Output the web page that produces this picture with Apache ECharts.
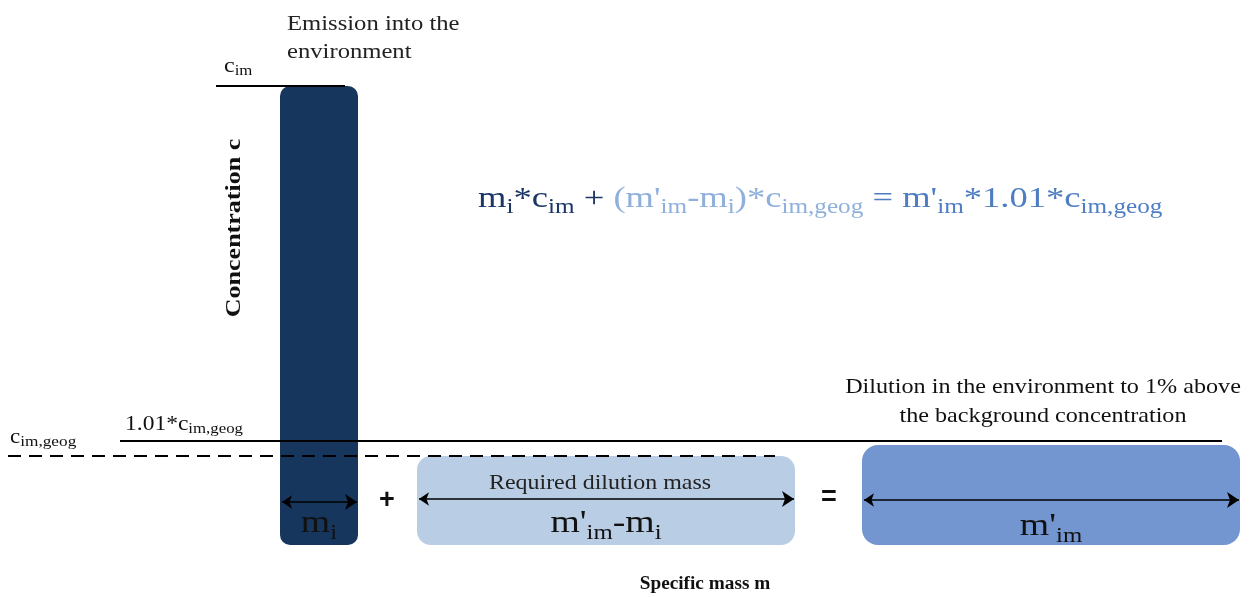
<!DOCTYPE html>
<html><head><meta charset="utf-8">
<script src="https://cdn.jsdelivr.net/npm/echarts@6/dist/echarts.min.js"></script>
<style>html,body{margin:0;padding:0;background:#fff}#c{width:1253px;height:597px}</style>
</head><body><div id="c"></div>
<script>
// Conceptual diagram: x = specific mass, y = concentration (arbitrary diagram units)
const massNames  = ['m_i', "m'_im-m_i", "m'_im"];
const massStart  = [280, 417, 862];
const massEnd    = [358, 795, 1240];
const massBase   = [52, 52, 52];
const massTop    = [511, 141, 152];
const massColors = ['#17365d', '#b9cde5', '#7396d1'];
const massRadius = [10, 14, 16];
const arrowLevel = [95, 98, 97];

const levelNames  = ['c_im', '1.01*c_im,geog', 'c_im,geog'];
const levelValues = [511, 156, 141];
const levelStart  = [216, 120, 8];
const levelEnd    = [345, 1222, 775];
const levelDashed = [false, false, true];

const serif = '"Liberation Serif","Times New Roman",serif';
const sans = '"Liberation Sans",Arial,sans-serif';

function sub(fs, color, extra) {
  return Object.assign({fontSize: fs, fontFamily: serif, fill: color}, extra || {});
}

const chart = echarts.init(document.getElementById('c'), null, {renderer: 'canvas'});

const barData = massNames.map((n, i) => [massStart[i], massEnd[i], massBase[i], massTop[i], i]);
const labelRich = {
  n: sub(32, '#111', {lineHeight: 38}),
  s: sub(21, '#111', {lineHeight: 21, padding: [18, 0, 0, 0]})
};
const barLabels = [
  '{n|m}{s|i}',
  "{n|m'}{s|im}{n|-m}{s|i}",
  "{n|m'}{s|im}"
];
const labelLift = [21, 21, 18];

const option = {
  animation: false,
  backgroundColor: '#ffffff',
  grid: {left: 0, right: 0, top: 0, bottom: 0},
  xAxis: {type: 'value', min: 0, max: 1253, show: false},
  yAxis: {type: 'value', min: 0, max: 597, show: false},
  series: [
    {
      type: 'custom',
      z: 1,
      data: barData,
      renderItem: function (params, api) {
        const i = api.value(4);
        const p1 = api.coord([api.value(0), api.value(3)]);
        const p2 = api.coord([api.value(1), api.value(2)]);
        const w = p2[0] - p1[0], h = p2[1] - p1[1];
        return {
          type: 'group',
          children: [
            {type: 'rect', shape: {x: p1[0], y: p1[1], width: w, height: h, r: massRadius[i]},
             style: {fill: massColors[i]}},
            {type: 'text', z2: 10, x: p1[0] + w / 2, y: p2[1] - labelLift[i], scaleX: 1.18,
             style: {x: 0, y: 0, text: barLabels[i], rich: labelRich,
                     align: 'center', verticalAlign: 'middle'}}
          ]
        };
      }
    },
    {
      type: 'lines',
      coordinateSystem: 'cartesian2d',
      z: 3,
      symbol: ['none', 'none'],
      data: levelNames.map((n, i) => ({
        name: n,
        coords: [[levelStart[i], levelValues[i]], [levelEnd[i], levelValues[i]]],
        lineStyle: {color: '#000', width: 2, type: levelDashed[i] ? [13, 8] : 'solid', opacity: 1}
      }))
    },
    {
      type: 'lines',
      coordinateSystem: 'cartesian2d',
      z: 4,
      symbol: ['arrow', 'arrow'],
      symbolSize: [10, 12],
      lineStyle: {color: '#000', width: 1.6, opacity: 1},
      data: massNames.map((n, i) => ({
        name: n,
        coords: [[massStart[i] + 2, arrowLevel[i]], [massEnd[i] - 1, arrowLevel[i]]]
      }))
    }
  ],
  graphic: {
    elements: [
      {type: 'text', z: 100, x: 287, y: 10, scaleX: 1.12,
       style: {text: 'Emission into the\nenvironment', font: '22px ' + serif, fill: '#222', lineHeight: 28}},
      {type: 'text', z: 100, x: 224, y: 56, scaleX: 1.2,
       style: {text: '{n|c}{s|im}', rich: {n: sub(20, '#111', {lineHeight: 22}), s: sub(14, '#111', {lineHeight: 14, padding: [9, 0, 0, 0]})}}},
      {type: 'text', z: 100, x: 235, y: 228, rotation: Math.PI / 2, scaleX: 1.3,
       style: {text: 'Concentration c', font: 'bold 20px ' + serif, fill: '#111', align: 'center', verticalAlign: 'middle'}},
      {type: 'text', z: 100, x: 478, y: 181, scaleX: 1.26,
       style: {
         text: "{a|m}{as|i}{a|*c}{as|im}{a| + }{b|(m'}{bs|im}{b|-m}{bs|i}{b|)*c}{bs|im,geog}{c| = m'}{cs|im}{c|*1.01*c}{cs|im,geog}",
         rich: {
           a: sub(29, '#1c3766', {lineHeight: 36}),
           as: sub(20, '#1c3766', {lineHeight: 20, padding: [18, 0, 0, 0]}),
           b: sub(29, '#8fb0dc', {lineHeight: 36}),
           bs: sub(20, '#8fb0dc', {lineHeight: 20, padding: [18, 0, 0, 0]}),
           c: sub(29, '#4f7dc3', {lineHeight: 36}),
           cs: sub(20, '#4f7dc3', {lineHeight: 20, padding: [18, 0, 0, 0]})
         }
       }},
      {type: 'text', z: 100, x: 125, y: 412, scaleX: 1.12,
       style: {text: '{n|1.01*c}{s|im,geog}', rich: {n: sub(21, '#111', {lineHeight: 24}), s: sub(15, '#111', {lineHeight: 15, padding: [10, 0, 0, 0]})}}},
      {type: 'text', z: 100, x: 10, y: 427, scaleX: 1.15,
       style: {text: '{n|c}{s|im,geog}', rich: {n: sub(20, '#111', {lineHeight: 22}), s: sub(15, '#111', {lineHeight: 15, padding: [9, 0, 0, 0]})}}},
      {type: 'text', z: 100, x: 1043, y: 373, scaleX: 1.15,
       style: {text: 'Dilution in the environment to 1% above\nthe background concentration', font: '21px ' + serif, fill: '#111',
               align: 'center', lineHeight: 29}},
      {type: 'text', z: 100, x: 600, y: 483, scaleX: 1.14,
       style: {text: 'Required dilution mass', font: '21px ' + serif, fill: '#222', align: 'center', verticalAlign: 'middle'}},
      {type: 'text', z: 100, x: 387, y: 501,
       style: {text: '+', font: 'bold 27px ' + sans, fill: '#111', align: 'center', verticalAlign: 'middle'}},
      {type: 'text', z: 100, x: 829, y: 498,
       style: {text: '=', font: 'bold 27px ' + sans, fill: '#111', align: 'center', verticalAlign: 'middle'}},
      {type: 'text', z: 100, x: 705, y: 584, scaleX: 1.07,
       style: {text: 'Specific mass m', font: 'bold 18px ' + serif, fill: '#111', align: 'center', verticalAlign: 'middle'}}
    ]
  }
};
chart.setOption(option);
</script>
</body></html>
